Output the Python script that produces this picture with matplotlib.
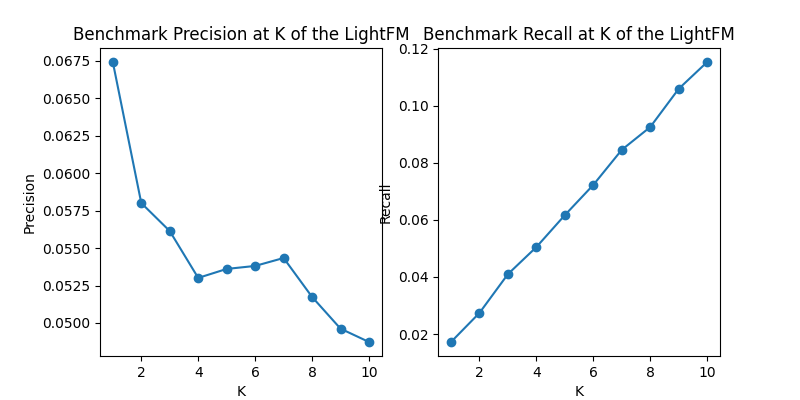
import matplotlib
matplotlib.use("Agg")
import matplotlib.pyplot as plt

k_values = [1, 2, 3, 4, 5, 6, 7, 8, 9, 10]
precision = [0.06743, 0.05801, 0.05614, 0.05301, 0.05361, 0.05381, 0.05434, 0.05174, 0.04962, 0.04873]
recall = [0.0172, 0.0274, 0.0410, 0.0505, 0.0617, 0.0723, 0.0846, 0.0926, 0.1060, 0.1154]

fig, (ax1, ax2) = plt.subplots(1, 2, figsize=(8, 4), dpi=100)

ax1.plot(k_values, precision, marker='o')
ax1.set_title('Benchmark Precision at K of the LightFM')
ax1.set_xlabel('K')
ax1.set_ylabel('Precision')

ax2.plot(k_values, recall, marker='o')
ax2.set_title('Benchmark Recall at K of the LightFM')
ax2.set_xlabel('K')
ax2.set_ylabel('Recall')

plt.savefig('out.png')
